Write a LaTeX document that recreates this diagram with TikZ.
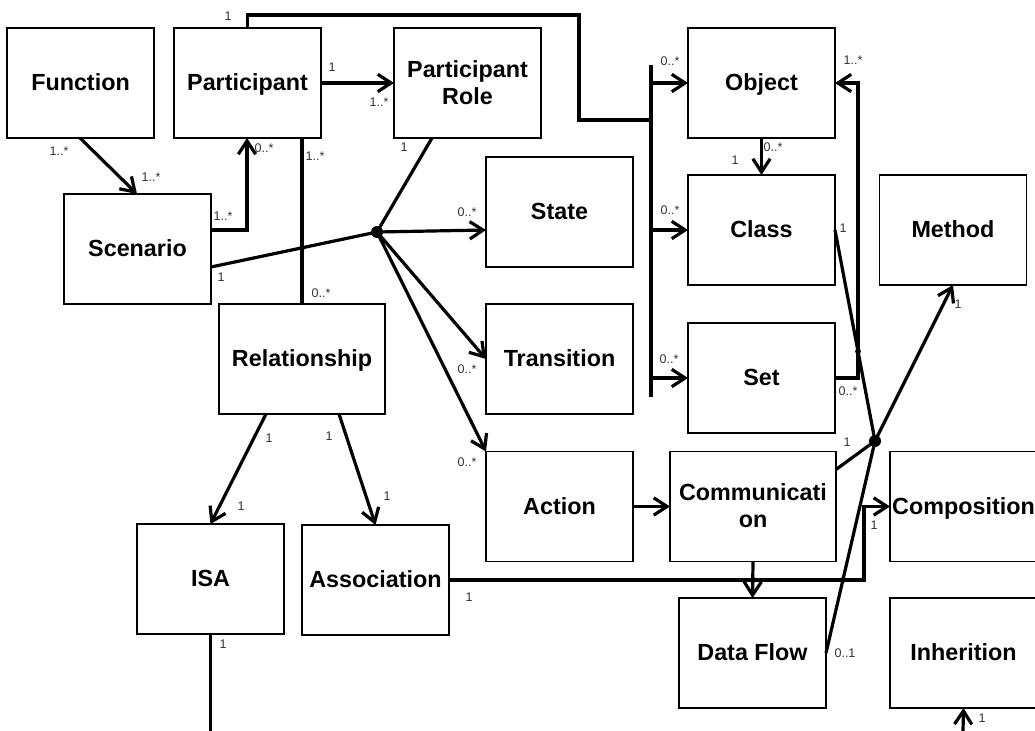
\documentclass[tikz,border=0pt]{standalone}
\usepackage{fontspec}
\setmainfont{Liberation Sans}
\usetikzlibrary{arrows.meta,calc}

\begin{document}
\begin{tikzpicture}[x=0.75pt,y=-0.75pt,
  box/.style={draw, line width=1.4pt, rectangle, minimum width=110.25pt,
    minimum height=82.5pt, inner sep=0pt, outer sep=0pt, align=center,
    text depth=1pt,
    font=\fontsize{17.5}{20.25}\selectfont\bfseries},
  wide/.style={box, minimum width=124.5pt},
  conn/.style={line width=2.4pt},
  arr/.style={conn, -{Straight Barb[length=10pt,width=13pt]}},
  card/.style={font=\fontsize{9.4}{11}\selectfont, text=black!80, inner sep=0pt}]

\useasboundingbox (0,0) rectangle (1035,731);
\clip (0,0) rectangle (1035,731);

% classes
\node[box] (Function)      at (80.5,83)    {Function};
\node[box] (Participant)   at (247.5,83)   {Participant};
\node[box] (PRole)         at (467.5,83)   {Participant\\Role};
\node[box] (Object)        at (761.5,83)   {Object};
\node[box] (Scenario)      at (137.5,249)  {Scenario};
\node[box] (State)         at (559.5,212)  {State};
\node[box] (Class)         at (761.5,230)  {Class};
\node[box] (Method)        at (953,230)    {Method};
\node[wide] (Relationship) at (302,359)    {Relationship};
\node[box] (Transition)    at (559.5,359)  {Transition};
\node[box] (Set)           at (761.5,378)  {Set};
\node[box] (Action)        at (559.5,506.5){Action};
\node[wide] (Communication) at (753,506.5) {Communicati\\on};
\node[box] (Composition)   at (963.5,506.5){Composition};
\node[box] (ISA)           at (210.5,579)  {ISA};
\node[box] (Association)   at (375.5,580)  {Association};
\node[box] (DataFlow)      at (752.5,653)  {Data Flow};
\node[box] (Inherition)    at (963.5,653)  {Inherition};

% junctions and bends
\coordinate (J1) at (377,232);
\coordinate (J2) at (875,441);
\coordinate (barTop) at (651,65);
\coordinate (barBot) at (651,397);
\coordinate (topRun) at (579,15);
\coordinate (barIn) at (651,120);
\coordinate (isaEnd) at (210.5,731);
\coordinate (inhEnd) at (963,731);
\coordinate (relTop) at (Relationship.north |- Participant.south);
\coordinate (sc1) at ($(Scenario.north east)+(0,73)$);
\coordinate (setTurn) at ($(Set.east)+(23,0)$);
\coordinate (objTurn) at (setTurn |- Object.east);
\coordinate (asTurn) at ($(Association.east)+(415,0)$);

% connectors
\draw[arr] ($(Function.south west)+(73,0)$) -- ($(Scenario.north west)+(73,0)$);
\draw[arr] ($(Scenario.north east)+(0,36)$) -| ($(Participant.south west)+(73,0)$);
\draw[arr] (Participant.east) -- (PRole.west);
\draw[conn] (Participant.north) |- (topRun) |- (barIn);
\draw[conn] (barTop) -- (barBot);
\draw[arr] (barTop |- Object.west) -- (Object.west);
\draw[arr] (barTop |- Class.west) -- (Class.west);
\draw[arr] (barTop |- Set.west) -- (Set.west);
\draw[conn] (relTop) -- (Relationship.north);

\draw[conn] (sc1) -- (J1);
\draw[conn] ($(PRole.south west)+(38,0)$) -- (J1);
\draw[arr] (J1) -- ($(State.west)+(0,18)$);
\draw[arr] (J1) -- (Transition.west);
\draw[arr] (J1) -- (Action.north west);

\draw[arr] (Object.south) -- (Class.north);
\draw[arr] (Set.east) -- (setTurn) |- (Object.east);

\draw[conn] (Class.east) -- (J2);
\draw[conn] ($(Communication.north east)+(0,18)$) -- (J2);
\draw[arr] (J2) -- (Method.south);
\draw[conn] (J2) -- (DataFlow.east);

\draw[arr] (Action.east) -- (Communication.west);
\draw[arr] (Communication.south) -- (DataFlow.north);
\draw[arr] (Association.east) -- (asTurn) |- (Composition.west);

\draw[arr] ($(Relationship.south west)+(47,0)$) -- (ISA.north);
\draw[arr] ($(Relationship.south west)+(120,0)$) -- (Association.north);
\draw[conn] (ISA.south) -- (isaEnd);
\draw[arr] (inhEnd) -- (Inherition.south);

% junction dots and crossing marks
\fill (J1) circle[radius=4.5pt];
\fill (J2) circle[radius=4.5pt];
\fill (382,240) circle[radius=2pt];
\fill (intersection of sc1--J1 and relTop--Relationship.north) circle[radius=2.2pt];
\fill (intersection of Class.east--J2 and setTurn--objTurn) circle[radius=2.2pt];
\fill (Communication.south |- Association.east) circle[radius=2.2pt];
\fill (intersection of Association.east--asTurn and J2--DataFlow.east) circle[radius=2.2pt];

% multiplicities
\node[card] (m1)  at (59,151)  {1..*};
\node[card] (m2)  at (151,177) {1..*};
\node[card] (m3)  at (223,216) {1..*};
\node[card] (m4)  at (264,148) {0..*};
\node[card] (m5)  at (315,156) {1..*};
\node[card] (m6)  at (321,293) {0..*};
\node[card] (m7)  at (332,67)  {1};
\node[card] (m8)  at (379,102) {1..*};
\node[card] (m9)  at (228,16)  {1};
\node[card] (m10) at (221,277) {1};
\node[card] (m11) at (404,147) {1};
\node[card] (m12) at (467,212) {0..*};
\node[card] (m13) at (670,61)  {0..*};
\node[card] (m14) at (670,210) {0..*};
\node[card] (m15) at (669,359) {0..*};
\node[card] (m16) at (467,369) {0..*};
\node[card] (m17) at (467,462) {0..*};
\node[card] (m18) at (735,160) {1};
\node[card] (m19) at (773,147) {0..*};
\node[card] (m20) at (853,60)  {1..*};
\node[card] (m21) at (843,228) {1};
\node[card] (m22) at (958,304) {1};
\node[card] (m23) at (848,391) {0..*};
\node[card] (m24) at (847,442) {1};
\node[card] (m25) at (874,525) {1};
\node[card] (m26) at (845,653) {0..1};
\node[card] (m27) at (982,718) {1};
\node[card] (m28) at (269,438) {1};
\node[card] (m29) at (241,506) {1};
\node[card] (m30) at (329,436) {1};
\node[card] (m31) at (387,496) {1};
\node[card] (m32) at (469,597) {1};
\node[card] (m33) at (223,644) {1};
\end{tikzpicture}
\end{document}
